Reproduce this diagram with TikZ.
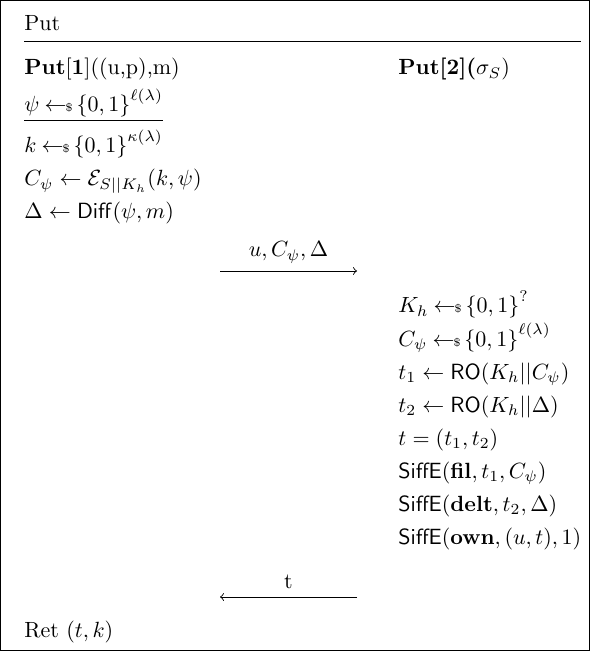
\documentclass[tikz,border=0pt]{standalone}
\usepackage{amsmath}
\newcommand{\smp}{\hskip2.3pt{\gets\!\!\mbox{\tiny\$}}\,}
\newcommand{\bits}{{\{0,1\}}}
\begin{document}
\begin{tikzpicture}[x=0.4545pt,y=-0.4545pt,
	ln/.style={anchor=base west,inner sep=0pt},
	lab/.style={anchor=base,inner sep=0pt},
	msg/.style={->,line width=0.4pt}]
	\useasboundingbox (0,0) rectangle (590,651);
	\draw[line width=0.4pt] (0.5,0.5) rectangle (589.5,650.5);
	
	\draw[] (24,31) node[ln] (title) {Put};
	\draw[line width=0.4pt] (24,41.5) -- (581,41.5);
	
	\draw[] (24,75) node[ln] (put1) {\textbf{Put}[\textbf{1}]((u,p),m)};
	\draw[] (24,112) node[ln] (psi) {$\underline{\psi \smp \bits^{\ell(\lambda)}}$};
	\draw[] (24,153) node[ln] (kk) {$k \smp \bits^{\kappa(\lambda)}$};
	\draw[] (24,186) node[ln] (cpsi) {$C_\psi \gets \mathcal{E}_{S||K_h}(k,\psi)$};
	\draw[] (24,219) node[ln] (delta) {$\Delta \gets \mathsf{Diff}(\psi,m)$};
	
	\draw[] (398,75) node[ln] (put2) {\textbf{Put[2](}$\sigma_S$)};
	\draw[] (398,313) node[ln] (kh) {$K_h \smp \bits^{?}$};
	\draw[] (398,346) node[ln] (cpsib) {$C_\psi \smp \bits^{\ell(\lambda)}$};
	\draw[] (398,379) node[ln] (ta) {$t_1 \gets \mathsf{RO}(K_h||C_\psi)$};
	\draw[] (398,412) node[ln] (tb) {$t_2 \gets \mathsf{RO}(K_h||\Delta)$};
	\draw[] (398,445) node[ln] (tt) {$t = (t_1,t_2)$};
	\draw[] (398,478) node[ln] (sfil) {$\mathsf{SiffE}(\mathbf{fil},t_1,C_\psi)$};
	\draw[] (398,511) node[ln] (sdelt) {$\mathsf{SiffE}(\mathbf{delt},t_2,\Delta)$};
	\draw[] (398,544) node[ln] (sown) {$\mathsf{SiffE}(\mathbf{own},(u,t),1)$};
	
	\draw[] (24,637) node[ln] (ret) {Ret $(t,k)$};
	
	\coordinate (m1l) at (220,271);
	\coordinate (m1r) at (357,271);
	\coordinate (m2l) at (220,597);
	\coordinate (m2r) at (357,597);
	\draw[] (288.5,257) node[lab] (lab1) {$u, C_\psi, \Delta$};
	\draw[] (288.5,588) node[lab] (lab2) {t};
	
	\draw[msg] (m1l) -- (m1r);
	\draw[msg] (m2r) -- (m2l);

	\end{tikzpicture}
\end{document}
